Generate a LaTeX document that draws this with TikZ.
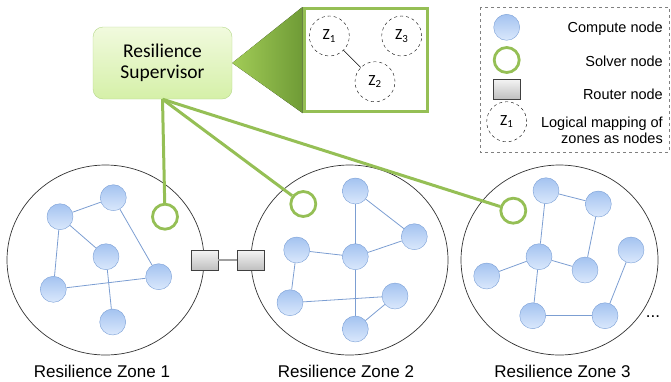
\documentclass[tikz,border=0pt]{standalone}
\usepackage{fontspec}
\setmainfont{Liberation Sans}
\newfontfamily\calibri{Carlito}
\usetikzlibrary{positioning, shapes.geometric, backgrounds}

\definecolor{leafgreen}{HTML}{95BF55}
\definecolor{suptop}{HTML}{F1FADE}
\definecolor{supbot}{HTML}{D5F0A8}
\definecolor{supedge}{HTML}{B5D88A}
\definecolor{calloutL}{HTML}{A2CC57}
\definecolor{calloutR}{HTML}{6F9B36}
\definecolor{computetop}{HTML}{A4C3F0}
\definecolor{computebot}{HTML}{DAE8FC}
\definecolor{computeedge}{HTML}{7A9FD6}
\definecolor{linkblue}{HTML}{7C9ED2}

\tikzset{
  compute/.style={circle, draw=computeedge, top color=computetop,
      bottom color=computebot, minimum size=26pt, inner sep=0pt},
  solver/.style={circle, draw=leafgreen, line width=2.8pt, fill=white,
      minimum size=25pt, inner sep=0pt},
  router/.style={rectangle, draw=black!75, top color=gray!8,
      bottom color=gray!50, minimum width=27pt, minimum height=20pt, inner sep=0pt},
  zonering/.style={ellipse, draw=black!80, line width=0.7pt,
      minimum width=197pt, minimum height=190pt, inner sep=0pt},
  logical/.style={circle, draw, dashed, minimum size=40pt, inner sep=0pt,
      font=\calibri\fontsize{15.5}{15.5}\selectfont},
  link/.style={draw=linkblue, line width=0.8pt},
  zonelabel/.style={font=\fontsize{17}{17}\selectfont, inner sep=0pt},
  legendtext/.style={anchor=east, inner sep=0pt, align=right,
      font=\fontsize{14.5}{16}\selectfont},
}

\begin{document}
\begin{tikzpicture}[x=1pt, y=-1pt]
    \useasboundingbox (0,0) rectangle (671,381);

    % Supervisor and its zoomed view
    \node[draw=supedge, top color=suptop, bottom color=supbot, rounded corners=10pt,
         minimum width=139pt, minimum height=72pt, align=center,
         font=\calibri\fontsize{19.5}{21.5}\selectfont] (sup) at (162.5,63) {Resilience\\Supervisor};
    \node[draw=leafgreen, line width=3pt, fill=white,
         minimum width=123pt, minimum height=103pt] (view) at (365.5,60) {};
    \begin{scope}[on background layer]
        \fill[left color=calloutL, right color=calloutR]
            (sup.east) -- (view.north west) -- (view.south west) -- cycle;
    \end{scope}
    \node[logical] (z1) at (329.3,36) {Z\textsubscript{1}};
    \node[logical] (z2) at (375,81.7) {Z\textsubscript{2}};
    \node[logical] (z3) at (401.7,36) {Z\textsubscript{3}};
    \draw[line width=0.6pt] (z1) -- (z2);

    % Legend
    \draw[dashed, gray, line width=0.6pt] (480,7) rectangle (669,152);
    \node[compute] (lc) at (506.7,27.3) {};
    \node[legendtext] at (663,28.5) {Compute node};
    \node[solver] (ls) at (506.7,60) {};
    \node[legendtext] at (663,61) {Solver node};
    \node[router] (lr) at (506.7,89) {};
    \node[legendtext] at (663,94) {Router node};
    \node[logical] (lz) at (506.7,121.7) {Z\textsubscript{1}};
    \node[legendtext] at (663,130) {Logical mapping of\\zones as nodes};

    % Zones
    \node[zonering] (zone1) at (105.5,260) {};
    \node[zonering] (zone2) at (349.5,260) {};
    \node[zonering] (zone3) at (559.5,260) {};
    \node[zonelabel] at (102,371.5) {Resilience Zone 1};
    \node[zonelabel] at (346,371.5) {Resilience Zone 2};
    \node[zonelabel] at (562.5,371.5) {Resilience Zone 3};

    % Zone 1
    \node[compute] (a1) at (60,216.7) {};
    \node[compute] (a2) at (113.3,197.7) {};
    \node[compute] (a3) at (106,256.7) {};
    \node[compute] (a4) at (53.3,289.3) {};
    \node[compute] (a5) at (158.7,276.7) {};
    \node[compute] (a6) at (112.7,322) {};
    \node[solver] (s1) at (165,216.7) {};
    \draw[link] (a1) -- (a2);
    \draw[link] (a1) -- (a3);
    \draw[link] (a1) -- (a4);
    \draw[link] (a2) -- (a5);
    \draw[link] (a4) -- (a5);
    \draw[link] (a3) -- (a6);

    % Zone 2
    \node[compute] (b1) at (355.3,191) {};
    \node[compute] (b2) at (414.3,236.7) {};
    \node[compute] (b3) at (355.3,256.7) {};
    \node[compute] (b4) at (296.7,250) {};
    \node[compute] (b5) at (290,302.7) {};
    \node[compute] (b6) at (395,296) {};
    \node[compute] (b7) at (355.3,329) {};
    \node[solver] (s2) at (303.3,204) {};
    \draw[link] (b1) -- (b3);
    \draw[link] (b1) -- (b2);
    \draw[link] (b2) -- (b3);
    \draw[link] (b4) -- (b3);
    \draw[link] (b4) -- (b5);
    \draw[link] (b5) -- (b6);
    \draw[link] (b3) -- (b7);
    \draw[link] (b7) -- (b6);

    % Zone 3
    \node[compute] (c1) at (546,190.7) {};
    \node[compute] (c2) at (598.3,204) {};
    \node[compute] (c3) at (539,256.7) {};
    \node[compute] (c4) at (486.7,276) {};
    \node[compute] (c5) at (585,270) {};
    \node[compute] (c6) at (631,250) {};
    \node[compute] (c7) at (532.7,315.7) {};
    \node[compute] (c8) at (605,315.7) {};
    \node[solver] (s3) at (513.3,210.7) {};
    \draw[link] (c1) -- (c2);
    \draw[link] (c1) -- (c3);
    \draw[link] (c2) -- (c5);
    \draw[link] (c3) -- (c5);
    \draw[link] (c3) -- (c4);
    \draw[link] (c3) -- (c7);
    \draw[link] (c7) -- (c8);
    \draw[link] (c8) -- (c6);
    \node[font=\fontsize{17}{17}\selectfont, inner sep=0pt] (more) at (653,317) {...};

    % Routers between zone 1 and zone 2
    \node[router] (r1) at (204.3,260) {};
    \node[router] (r2) at (250.7,260) {};
    \draw[gray!75, line width=2.5pt] (r1) -- (r2);

    % Supervisor to solvers
    \draw[leafgreen, line width=3pt] (sup.south) -- (s1);
    \draw[leafgreen, line width=3pt] (sup.south) -- (s2);
    \draw[leafgreen, line width=3pt] (sup.south) -- (s3);

\end{tikzpicture}
\end{document}
